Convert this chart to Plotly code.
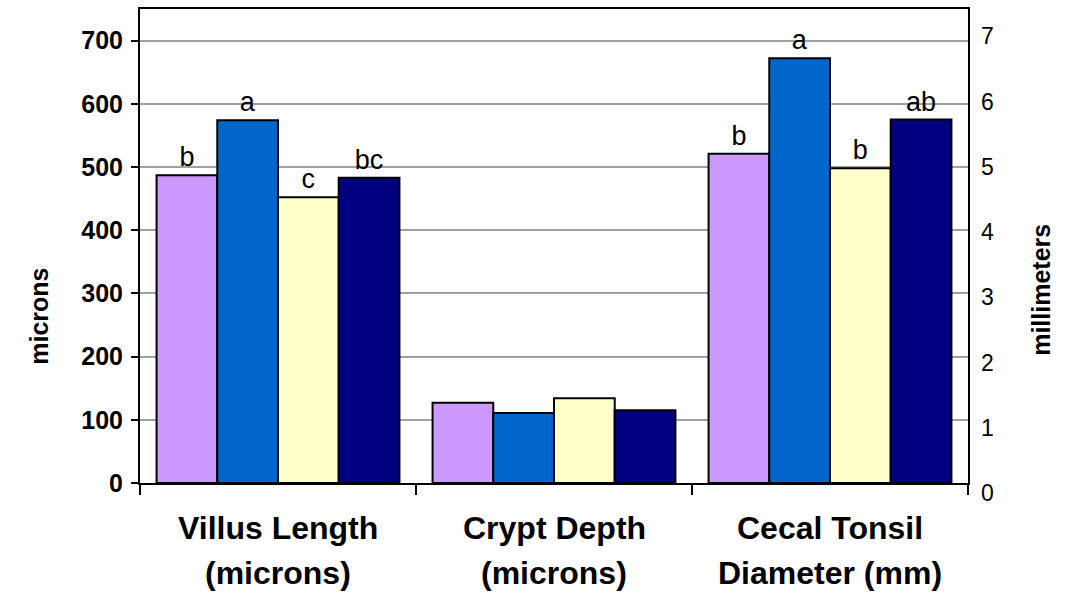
import plotly.graph_objects as go

categories = ["Villus Length (microns)", "Crypt Depth (microns)", "Cecal Tonsil Diameter (mm)"]
cat_line1 = ["Villus Length", "Crypt Depth", "Cecal Tonsil"]
cat_line2 = ["(microns)", "(microns)", "Diameter (mm)"]

series_names = ["Treatment 1", "Treatment 2", "Treatment 3", "Treatment 4"]
colors = ["#CC99FF", "#0066CC", "#FFFFCC", "#000080"]

# microns (left axis): villus length, crypt depth
micron_values = [
    [487, 127],
    [574, 111],
    [452, 134],
    [483, 115],
]
# millimeters (right axis): cecal tonsil diameter
mm_values = [5.21, 6.72, 4.98, 5.75]

letters_micron = [["b", ""], ["a", ""], ["c", ""], ["bc", ""]]
letters_mm = ["b", "a", "b", "ab"]

left_ticks = [0, 100, 200, 300, 400, 500, 600, 700]
right_ticks = [0, 1, 2, 3, 4, 5, 6, 7]

FONT = "Liberation Sans, Arial, sans-serif"

# page geometry (pixels)
W, H = 1071, 594
L, R, T, B = 140, 103, 7, 101          # outer plot area (includes the right label axis)
PLOT_BOTTOM = 483                       # bottom of the bar plotting area
pw, ph = W - L - R, H - T - B
y_dom_low = (H - B - PLOT_BOTTOM) / ph


def px_to_paper_y(py):
    return (H - B - py) / ph


def px_to_paper_x(px):
    return (px - L) / pw


fig = go.Figure()
# empty trace so the right-hand millimeter label axis is drawn (added first, drawn beneath)
fig.add_trace(go.Scatter(x=[], y=[], yaxis="y3", showlegend=False, hoverinfo="skip"))
for i in range(4):
    fig.add_trace(go.Bar(
        x=categories[:2], y=micron_values[i], name=series_names[i],
        marker=dict(color=colors[i], line=dict(color="black", width=2)),
        text=letters_micron[i], textposition="outside",
        textfont=dict(family=FONT, size=27, color="black"),
        cliponaxis=False, offsetgroup=str(i), yaxis="y", showlegend=False,
    ))
for i in range(4):
    fig.add_trace(go.Bar(
        x=[categories[2]], y=[mm_values[i]], name=series_names[i],
        marker=dict(color=colors[i], line=dict(color="black", width=2)),
        text=[letters_mm[i]], textposition="outside",
        textfont=dict(family=FONT, size=27, color="black"),
        cliponaxis=False, offsetgroup=str(i), yaxis="y2", showlegend=False,
    ))

YMAX = 750
annotations = []
for c, l1, l2 in zip(categories, cat_line1, cat_line2):
    annotations.append(dict(x=c, xref="x", y=px_to_paper_y(528), yref="paper", text=l1,
                            showarrow=False, yanchor="middle",
                            font=dict(family=FONT, size=32, color="black", weight="bold")))
    annotations.append(dict(x=c, xref="x", y=px_to_paper_y(573), yref="paper", text=l2,
                            showarrow=False, yanchor="middle",
                            font=dict(family=FONT, size=32, color="black", weight="bold")))
annotations.append(dict(x=px_to_paper_x(23), xref="paper", y=px_to_paper_y(316), yref="paper",
                        text="microns", showarrow=False, textangle=-90,
                        font=dict(family=FONT, size=25, color="black", weight="bold")))
annotations.append(dict(x=px_to_paper_x(1057), xref="paper", y=px_to_paper_y(289), yref="paper",
                        text="millimeters", showarrow=False, textangle=-90,
                        font=dict(family=FONT, size=25, color="black", weight="bold")))

# right label axis scale: 0 at 493 px, 7 at 34.5 px
mm_px_per_unit = (493 - 34.5) / 7
y3_top = (493 - T) / mm_px_per_unit

fig.update_layout(
    width=W, height=H,
    margin=dict(l=L, r=R, t=T, b=B, pad=0),
    paper_bgcolor="white", plot_bgcolor="rgba(0,0,0,0)",
    barmode="group", bargap=0.12, bargroupgap=0,
    font=dict(family=FONT, color="black"),
    annotations=annotations,
    xaxis=dict(
        type="category", tickson="boundaries", ticks="outside", ticklen=10,
        tickwidth=2, tickcolor="black", showticklabels=False, anchor="y",
        showline=True, linecolor="black", linewidth=2, mirror=True,
        showgrid=False, layer="above traces",
    ),
    yaxis=dict(
        domain=[y_dom_low, 1],
        range=[0, YMAX], tickvals=left_ticks, ticks="outside", ticklen=7,
        tickwidth=2, tickcolor="black",
        tickfont=dict(family=FONT, size=25, color="black", weight="bold"),
        showline=True, linecolor="black", linewidth=2, mirror=True,
        showgrid=True, gridcolor="#A0A0A0", gridwidth=2, zeroline=False,
        ticklabelstandoff=3,
    ),
    yaxis2=dict(
        range=[0, YMAX / 100], overlaying="y", side="right",
        ticks="", showgrid=False, zeroline=False, showline=False,
        showticklabels=False,
    ),
    yaxis3=dict(
        domain=[0, 1], anchor="free", position=1, side="right",
        range=[0, y3_top], tickvals=right_ticks,
        ticks="", showgrid=False, zeroline=False, showline=False,
        tickfont=dict(family=FONT, size=23, color="black"),
        ticklabelstandoff=12,
    ),
)

fig.write_html("out.html")
